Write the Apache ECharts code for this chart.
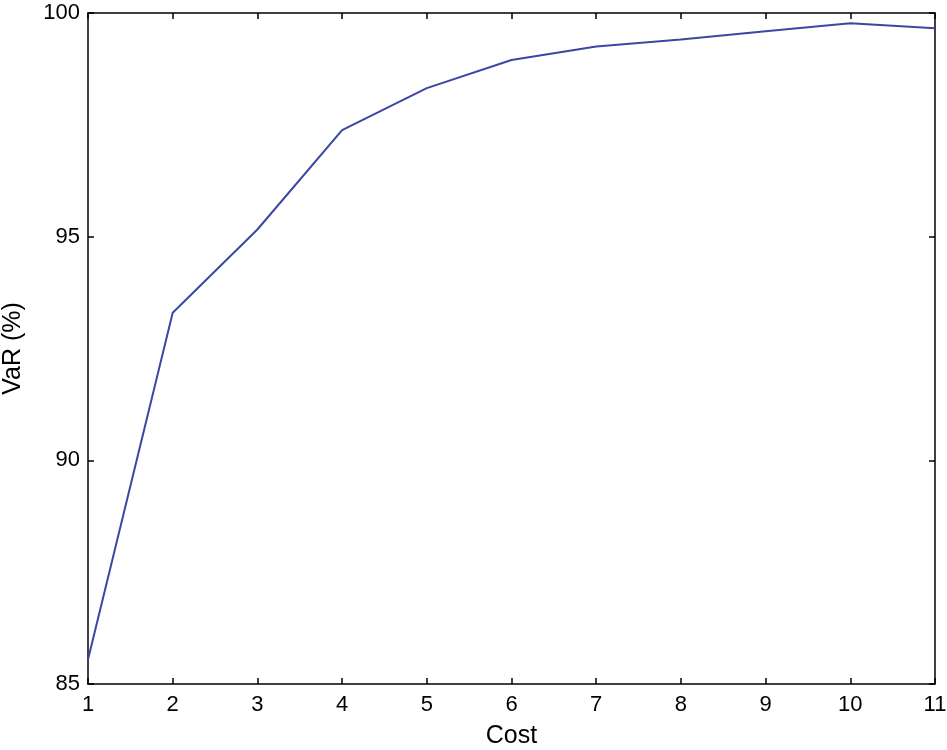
<!DOCTYPE html>
<html>
<head>
<meta charset="utf-8">
<script src="https://cdn.jsdelivr.net/npm/echarts@6/dist/echarts.min.js"></script>
<style>
  html, body { margin: 0; padding: 0; background: #fff; }
  #main { width: 947px; height: 750px; }
</style>
</head>
<body>
<div id="main"></div>
<script>
// data
var costs = [1, 2, 3, 4, 5, 6, 7, 8, 9, 10, 11];
var varPct = [85.55, 93.3, 95.16, 97.38, 98.32, 98.95, 99.25, 99.41, 99.59, 99.77, 99.66];

var chart = echarts.init(document.getElementById('main'));
var font = "'Liberation Sans', Arial, sans-serif";

var axisLine = { show: true, onZero: false, lineStyle: { color: '#000', width: 1.5 } };
var axisTick = { show: true, inside: true, length: 6, lineStyle: { color: '#000', width: 1.5 } };

var option = {
  backgroundColor: '#fff',
  animation: false,
  grid: { left: 88, right: 12, top: 13, bottom: 66, outerBoundsMode: 'none' },
  xAxis: [
    {
      type: 'value', min: 1, max: 11, interval: 1, position: 'bottom',
      name: 'Cost', nameLocation: 'middle', nameGap: 40,
      nameTextStyle: { color: '#000', fontSize: 25, fontFamily: font },
      axisLine: axisLine, axisTick: axisTick,
      axisLabel: { color: '#000', fontSize: 22, fontFamily: font, margin: 10 },
      splitLine: { show: false }
    },
    {
      type: 'value', min: 1, max: 11, interval: 1, position: 'top',
      axisLine: axisLine, axisTick: axisTick,
      axisLabel: { show: false }, splitLine: { show: false }
    }
  ],
  yAxis: [
    {
      type: 'value', min: 85, max: 100, interval: 5, position: 'left',
      name: 'VaR (%)', nameLocation: 'middle', nameGap: 62,
      nameTextStyle: { color: '#000', fontSize: 25, fontFamily: font },
      axisLine: axisLine, axisTick: axisTick,
      axisLabel: { color: '#000', fontSize: 22, fontFamily: font, margin: 8 },
      splitLine: { show: false }
    },
    {
      type: 'value', min: 85, max: 100, interval: 5, position: 'right',
      axisLine: axisLine, axisTick: axisTick,
      axisLabel: { show: false }, splitLine: { show: false }
    }
  ],
  series: [
    {
      type: 'line',
      data: costs.map(function (c, i) { return [c, varPct[i]]; }),
      showSymbol: false,
      lineStyle: { color: '#3a47a3', width: 2 }
    }
  ]
};

chart.setOption(option);
</script>
</body>
</html>
